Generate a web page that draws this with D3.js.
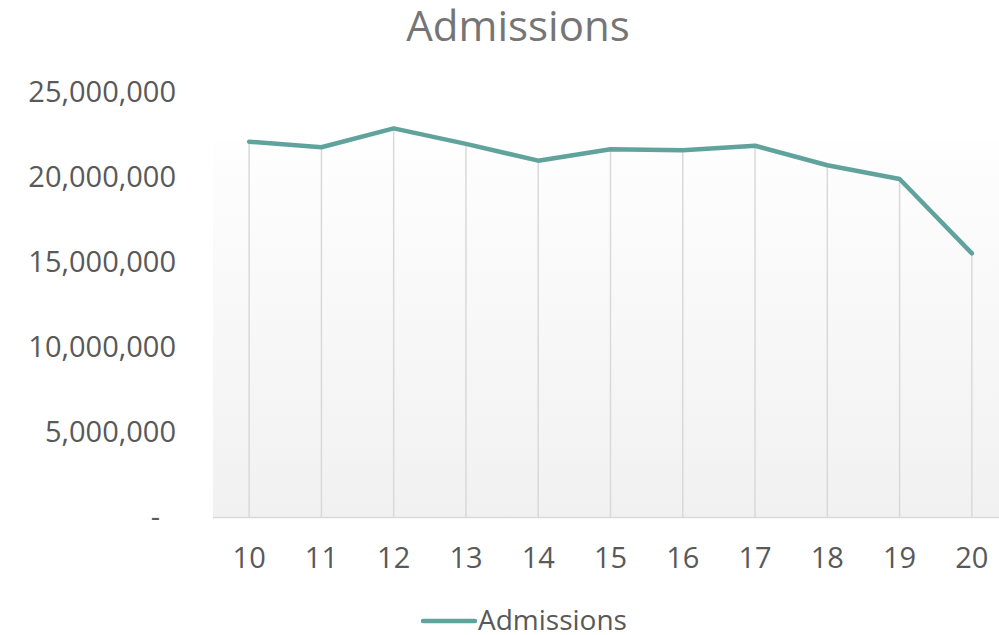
<!DOCTYPE html>
<html>
<head>
<meta charset="utf-8">
<script src="https://cdn.jsdelivr.net/npm/d3@7"></script>
<style>
  body { margin: 0; background: #fff; }
  svg { display: block; font-family: "Open Sans", "Noto Sans", sans-serif; }
</style>
</head>
<body>
<svg id="chart" width="999" height="635"></svg>
<script>
'use strict';

const years = ['10', '11', '12', '13', '14', '15', '16', '17', '18', '19', '20'];
const admissions = [22080000, 21750000, 22860000, 21950000, 20960000, 21630000,
  21570000, 21840000, 20690000, 19880000, 15510000];
const yTicks = [0, 5000000, 10000000, 15000000, 20000000, 25000000];

const svg = d3.select('#chart');
const lineColor = '#5fa39c';

const x = d3.scaleBand().domain(years).range([213, 1008]);
const y = d3.scaleLinear().domain([0, 25000000]).range([517, 92]);

// plot area gradient
const defs = svg.append('defs');
const grad = defs.append('linearGradient')
  .attr('id', 'bg').attr('x1', 0).attr('y1', 0).attr('x2', 0).attr('y2', 1);
grad.append('stop').attr('offset', '0%').attr('stop-color', '#fefefe');
grad.append('stop').attr('offset', '100%').attr('stop-color', '#f1f1f1');

svg.append('rect')
  .attr('x', 213).attr('y', 141)
  .attr('width', 999 - 213).attr('height', 517 - 141)
  .attr('fill', 'url(#bg)');

// title
svg.append('text')
  .attr('x', 518).attr('y', 41)
  .attr('text-anchor', 'middle')
  .attr('fill', '#757575')
  .style('font-size', '42px')
  .text('Admissions');

const xc = d => x(d) + x.bandwidth() / 2;

// drop lines
svg.append('g').selectAll('line')
  .data(years)
  .join('line')
  .attr('x1', d => xc(d)).attr('x2', d => xc(d))
  .attr('y1', (d, i) => y(admissions[i]))
  .attr('y2', 517)
  .attr('stroke', '#d9d9d9')
  .attr('stroke-width', 1.5);

// x axis line
svg.append('line')
  .attr('x1', 213).attr('x2', 999)
  .attr('y1', 517.5).attr('y2', 517.5)
  .attr('stroke', '#d9d9d9')
  .attr('stroke-width', 1.5);

// y axis labels
const fmt = d3.format(',');
const yAxis = d3.axisLeft(y)
  .tickValues(yTicks)
  .tickSize(0)
  .tickPadding(0)
  .tickFormat(d => d === 0 ? '-' : fmt(d));
const gy = svg.append('g').attr('transform', 'translate(176,0)').call(yAxis);
gy.select('.domain').remove();
gy.selectAll('text')
  .attr('fill', '#595959')
  .style('font-size', '29px')
  .style('font-family', '"Open Sans", sans-serif');
gy.selectAll('.tick')
  .filter(d => d === 0)
  .select('text')
  .attr('x', -16);

// x axis labels
const xAxis = d3.axisBottom(x).tickSize(0).tickPadding(0);
const gx = svg.append('g').attr('transform', 'translate(0,547)').call(xAxis);
gx.select('.domain').remove();
gx.selectAll('text')
  .attr('fill', '#595959')
  .style('font-size', '29px')
  .style('font-family', '"Open Sans", sans-serif');

// series line
const line = d3.line()
  .x((d, i) => xc(years[i]))
  .y(d => y(d));

svg.append('path')
  .datum(admissions)
  .attr('d', line)
  .attr('fill', 'none')
  .attr('stroke', lineColor)
  .attr('stroke-width', 4.5)
  .attr('stroke-linejoin', 'round')
  .attr('stroke-linecap', 'round');

// legend
const legend = svg.append('g');
legend.append('line')
  .attr('x1', 423).attr('x2', 475)
  .attr('y1', 621).attr('y2', 621)
  .attr('stroke', lineColor)
  .attr('stroke-width', 4.5)
  .attr('stroke-linecap', 'round');
legend.append('text')
  .attr('x', 478).attr('y', 630)
  .attr('fill', '#595959')
  .style('font-size', '28px')
  .text('Admissions');
</script>
</body>
</html>
